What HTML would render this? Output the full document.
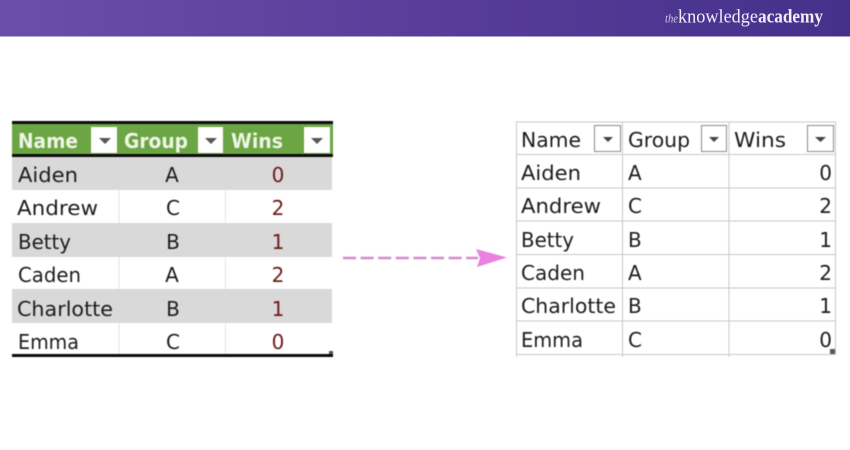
<!DOCTYPE html>
<html>
<head>
<meta charset="utf-8">
<style>
html,body{margin:0;padding:0;background:#fff;width:850px;height:450px;overflow:hidden}
svg{display:block}
.t{font-family:"DejaVu Sans","Liberation Sans",sans-serif;font-size:20px;fill:#1c1c1c}
.h{font-family:"DejaVu Sans","Liberation Sans",sans-serif;font-size:20px;font-weight:bold;fill:#eef5e6}
.r{fill:#6b1a14}
.b{filter:blur(.4px)}
</style>
</head>
<body>
<svg width="850" height="450" viewBox="0 0 850 450" xmlns="http://www.w3.org/2000/svg">
<defs>
<linearGradient id="bar" x1="0" x2="1" y1="0" y2="0">
<stop offset="0" stop-color="#6a4fa9"/>
<stop offset=".55" stop-color="#563c98"/>
<stop offset="1" stop-color="#45308a"/>
</linearGradient>
</defs>
<rect width="850" height="450" fill="#fff"/>
<rect width="850" height="36.500" fill="url(#bar)"/>
<text x="665" y="22.500" font-family="'Liberation Serif',serif" font-style="italic" font-size="13" fill="#cfc7e4" textLength="13" lengthAdjust="spacingAndGlyphs">the</text>
<text x="678" y="22.500" font-family="'Liberation Serif',serif" font-size="19" fill="#f1eef8" textLength="80" lengthAdjust="spacingAndGlyphs">knowledge</text>
<text x="758" y="22.500" font-family="'Liberation Serif',serif" font-size="19" font-weight="bold" fill="#f1eef8" textLength="65" lengthAdjust="spacingAndGlyphs">academy</text>

<g class="b">
<!-- left table -->
<rect x="12" y="124" width="321" height="30" fill="#6ca544"/>
<rect x="12" y="121" width="321" height="3" fill="#0c0c0c"/>
<rect x="12" y="154" width="321" height="3" fill="#0c0c0c"/>
<rect x="12" y="157" width="320" height="33" fill="#d9d9d9"/>
<rect x="12" y="223" width="320" height="34" fill="#d9d9d9"/>
<rect x="12" y="289" width="320" height="34" fill="#d9d9d9"/>
<rect x="12" y="354" width="321" height="3" fill="#0c0c0c"/>
<g fill="#e4e4e4">
<rect x="118.500" y="190" width="1" height="33"/><rect x="225" y="190" width="1" height="33"/>
<rect x="118.500" y="257" width="1" height="32"/><rect x="225" y="257" width="1" height="32"/>
<rect x="118.500" y="323" width="1" height="31"/><rect x="225" y="323" width="1" height="31"/>
</g>
<rect x="329" y="351" width="4" height="3" fill="#555"/>

<rect x="91" y="127" width="26" height="26" fill="#fff"/>
<rect x="198" y="127" width="25" height="26" fill="#fff"/>
<rect x="304" y="127" width="26" height="26" fill="#fff"/>
<g fill="#555">
<path d="M99 138h12l-6 6z"/>
<path d="M205 138h12l-6 6z"/>
<path d="M311 138h12l-6 6z"/>
</g>

<text class="h" x="18" y="148" textLength="60" lengthAdjust="spacingAndGlyphs">Name</text>
<text class="h" x="124" y="148" textLength="64" lengthAdjust="spacingAndGlyphs">Group</text>
<text class="h" x="231" y="148" textLength="52" lengthAdjust="spacingAndGlyphs">Wins</text>

<text class="t" x="18" y="182" textLength="60" lengthAdjust="spacingAndGlyphs">Aiden</text>
<text class="t" x="17" y="215" textLength="81" lengthAdjust="spacingAndGlyphs">Andrew</text>
<text class="t" x="18" y="249" textLength="53" lengthAdjust="spacingAndGlyphs">Betty</text>
<text class="t" x="18" y="282" textLength="63" lengthAdjust="spacingAndGlyphs">Caden</text>
<text class="t" x="17" y="316" textLength="96" lengthAdjust="spacingAndGlyphs">Charlotte</text>
<text class="t" x="18" y="349" textLength="61" lengthAdjust="spacingAndGlyphs">Emma</text>

<g text-anchor="middle">
<text class="t" x="172" y="182">A</text>
<text class="t" x="173" y="215">C</text>
<text class="t" x="173" y="249">B</text>
<text class="t" x="172" y="282">A</text>
<text class="t" x="173" y="316">B</text>
<text class="t" x="173" y="349">C</text>
<text class="t r" x="278" y="182">0</text>
<text class="t r" x="278" y="215">2</text>
<text class="t r" x="278" y="249">1</text>
<text class="t r" x="278" y="282">2</text>
<text class="t r" x="278" y="316">1</text>
<text class="t r" x="278" y="349">0</text>
</g>

<!-- arrow -->
<line x1="343" y1="258" x2="478" y2="258" stroke="#d58ac9" stroke-width="2.500" stroke-dasharray="13 4.600"/>
<path d="M476 249L507 257.500L477 267L480 258z" fill="#ea80e0"/>

<!-- right table -->
<g stroke="#c9c9c9" stroke-width="1" fill="none">
<path d="M516 122H836M516 154.500H836M516 188H836M516 221H836M516 254.500H836M516 288H836M516 321H836M516 354.500H836"/>
<path d="M516.500 122V357M622.500 122V357M729 122V357M835.500 122V354"/>
</g>
<g fill="#fff" stroke="#8a8a8a" stroke-width="1">
<rect x="594.500" y="125.500" width="26" height="26"/>
<rect x="701.500" y="125.500" width="25" height="26"/>
<rect x="807.500" y="125.500" width="26" height="26"/>
</g>
<g fill="#444">
<path d="M603 137h10l-5 5z"/>
<path d="M709 137h10l-5 5z"/>
<path d="M815 137h11l-5.500 5z"/>
</g>
<rect x="830" y="349" width="5" height="5" fill="#556"/>

<text class="t" x="521" y="147" textLength="60" lengthAdjust="spacingAndGlyphs">Name</text>
<text class="t" x="628" y="147" textLength="62" lengthAdjust="spacingAndGlyphs">Group</text>
<text class="t" x="734" y="147" textLength="52" lengthAdjust="spacingAndGlyphs">Wins</text>

<text class="t" x="521" y="180" textLength="60" lengthAdjust="spacingAndGlyphs">Aiden</text>
<text class="t" x="521" y="213" textLength="80" lengthAdjust="spacingAndGlyphs">Andrew</text>
<text class="t" x="521" y="247" textLength="53" lengthAdjust="spacingAndGlyphs">Betty</text>
<text class="t" x="521" y="280" textLength="64" lengthAdjust="spacingAndGlyphs">Caden</text>
<text class="t" x="521" y="313" textLength="95" lengthAdjust="spacingAndGlyphs">Charlotte</text>
<text class="t" x="521" y="347" textLength="62" lengthAdjust="spacingAndGlyphs">Emma</text>

<text class="t" x="628" y="180">A</text>
<text class="t" x="628" y="213">C</text>
<text class="t" x="628" y="247">B</text>
<text class="t" x="628" y="280">A</text>
<text class="t" x="628" y="313">B</text>
<text class="t" x="628" y="347">C</text>

<g text-anchor="end">
<text class="t" x="832" y="180">0</text>
<text class="t" x="832" y="213">2</text>
<text class="t" x="832" y="247">1</text>
<text class="t" x="832" y="280">2</text>
<text class="t" x="832" y="313">1</text>
<text class="t" x="832" y="347">0</text>
</g>
</g>
</svg>
</body>
</html>
